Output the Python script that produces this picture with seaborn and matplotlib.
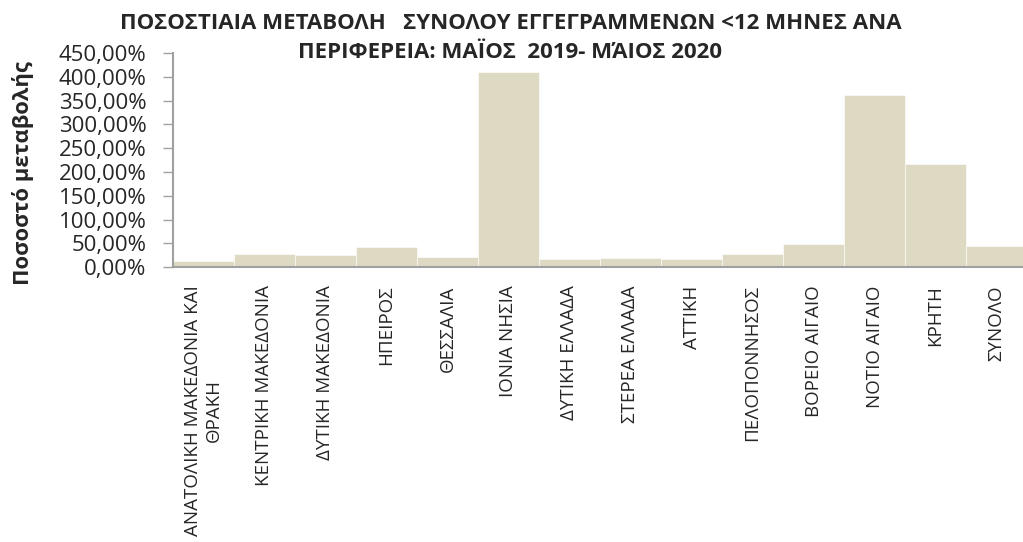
import pandas as pd
import seaborn as sns
import matplotlib.pyplot as plt
from matplotlib.ticker import FuncFormatter

regions = ["ΑΝΑΤΟΛΙΚΗ ΜΑΚΕΔΟΝΙΑ ΚΑΙ\nΘΡΑΚΗ", "ΚΕΝΤΡΙΚΗ ΜΑΚΕΔΟΝΙΑ", "ΔΥΤΙΚΗ ΜΑΚΕΔΟΝΙΑ",
           "ΗΠΕΙΡΟΣ", "ΘΕΣΣΑΛΙΑ", "ΙΟΝΙΑ ΝΗΣΙΑ", "ΔΥΤΙΚΗ ΕΛΛΑΔΑ", "ΣΤΕΡΕΑ ΕΛΛΑΔΑ",
           "ΑΤΤΙΚΗ", "ΠΕΛΟΠΟΝΝΗΣΟΣ", "ΒΟΡΕΙΟ ΑΙΓΑΙΟ", "ΝΟΤΙΟ ΑΙΓΑΙΟ", "ΚΡΗΤΗ", "ΣΥΝΟΛΟ"]
change_pct = [14, 28, 25, 41.5, 22.5, 411, 17, 19.5, 17, 28, 48, 361, 217, 44]

df = pd.DataFrame({"region": regions, "change": change_pct})

sns.set_style("white")
plt.rcParams['font.family'] = ['Open Sans', 'DejaVu Sans']

fig = plt.figure(figsize=(10.23, 5.42), dpi=100)
ax = fig.add_axes([0.169, 0.507, 0.835, 0.395])

sns.barplot(data=df, x="region", y="change", color="#DDD9C3", width=1.0,
            saturation=1, edgecolor="white", linewidth=0.4, ax=ax)

ax.set_ylim(0, 450)
ax.set_yticks(range(0, 451, 50))
ax.yaxis.set_major_formatter(FuncFormatter(lambda v, p: f"{v:.2f}".replace(".", ",") + "%"))
ax.tick_params(axis="y", labelsize=16, length=7, width=1, color="#A0A0A0", direction="out", pad=12, left=True)
ax.tick_params(axis="x", labelsize=13.5, length=0, pad=13)
ax.set_xticks(range(len(regions)))
ax.set_xticklabels(regions, rotation=90, va="top", ha="center", multialignment="center")
ax.set_xlabel("")
ax.set_ylabel("")

for s in ["top", "right"]:
    ax.spines[s].set_visible(False)
for s in ["left", "bottom"]:
    ax.spines[s].set_color("#A0A0A0")
    ax.spines[s].set_linewidth(1.5)

fig.text(0.022, 0.68, "Ποσοστό μεταβολής", rotation=90, ha="center", va="center",
         fontsize=15.8, fontweight="bold")
fig.text(0.499, 0.929, "ΠΟΣΟΣΤΙΑΙΑ ΜΕΤΑΒΟΛΗ   ΣΥΝΟΛΟΥ ΕΓΓΕΓΡΑΜΜΕΝΩΝ <12 ΜΗΝΕΣ ΑΝΑ\nΠΕΡΙΦΕΡΕΙΑ: ΜΑΪΟΣ  2019- ΜΆΙΟΣ 2020",
         ha="center", va="center", fontsize=16, fontweight="bold", linespacing=1.5)

fig.savefig("out.png", dpi=100)
